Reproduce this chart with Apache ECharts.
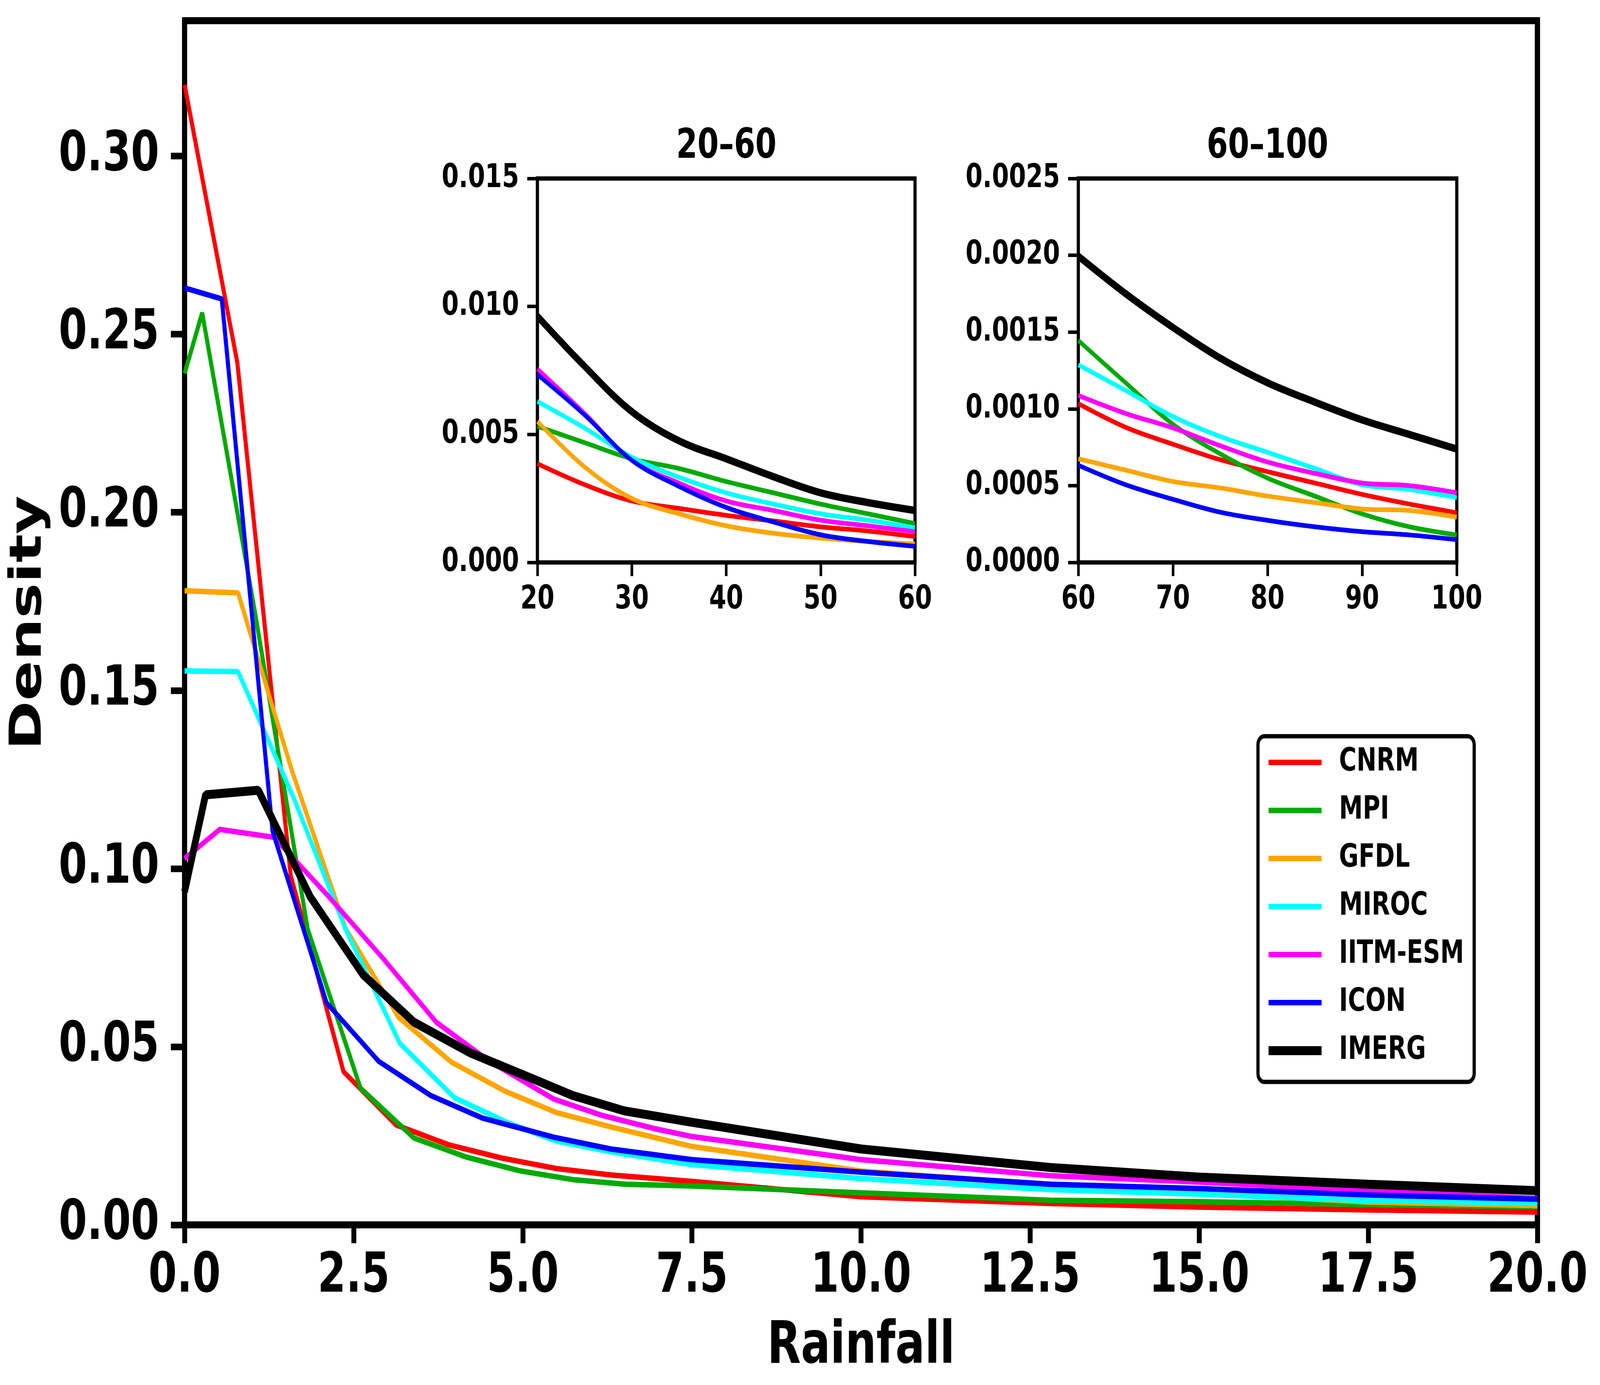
<!DOCTYPE html>
<html>
<head>
<meta charset="utf-8">
<script src="https://cdn.jsdelivr.net/npm/echarts@6/dist/echarts.min.js"></script>
<style>
html, body { margin: 0; padding: 0; background: #fff; overflow: hidden; }
#chart { width: 5496px; height: 3546px; transform-origin: 0 0; }
</style>
</head>
<body>
<div id="chart"></div>
<script>
// models and colours, in drawing order
const models = ['CNRM', 'MPI', 'GFDL', 'MIROC', 'IITM-ESM', 'ICON', 'IMERG'];
const colors = ['#ff0000', '#00aa00', '#ffa500', '#00ffff', '#ff00ff', '#0000ff', '#000000'];

// main panel: rainfall (x) and density (y) per model
const cnrmX = [0, 0.78, 1.57, 2.35, 3.13, 3.9, 4.7, 5.5, 6.3, 7.5, 10, 12.8, 15, 17.5, 20];
const cnrmY = [0.320, 0.242, 0.098, 0.043, 0.028, 0.0225, 0.0187, 0.0158, 0.0140, 0.0122, 0.0079, 0.0060, 0.0050, 0.0042, 0.0036];
const mpiX = [0, 0.26, 1.04, 1.82, 2.6, 3.39, 4.17, 4.95, 5.74, 6.52, 7.5, 10, 12.8, 15, 17.5, 20];
const mpiY = [0.239, 0.256, 0.172, 0.083, 0.0384, 0.0244, 0.0190, 0.0152, 0.0127, 0.0114, 0.0109, 0.0090, 0.0069, 0.0065, 0.0057, 0.0051];
const gfdlX = [0, 0.79, 1.59, 2.38, 3.16, 3.95, 4.74, 5.5, 6.3, 7.5, 10, 12.8, 15, 17.5, 20];
const gfdlY = [0.178, 0.1774, 0.1273, 0.0832, 0.0583, 0.0456, 0.0375, 0.0315, 0.0275, 0.0220, 0.0151, 0.0112, 0.0090, 0.0064, 0.0054];
const mirocX = [0, 0.79, 1.61, 2.38, 3.18, 3.99, 4.8, 5.5, 6.3, 7.5, 10, 12.8, 15, 17.5, 20];
const mirocY = [0.1555, 0.1553, 0.120, 0.083, 0.051, 0.0357, 0.0285, 0.0235, 0.0205, 0.0169, 0.0130, 0.0099, 0.0086, 0.0068, 0.0061];
const iitmX = [0, 0.52, 1.32, 2.10, 2.92, 3.72, 4.5, 5.46, 6.16, 6.95, 7.5, 10, 12.8, 15, 17.5, 20];
const iitmY = [0.1028, 0.111, 0.1088, 0.0928, 0.0751, 0.0569, 0.0460, 0.0353, 0.0308, 0.0270, 0.0248, 0.0183, 0.0138, 0.0120, 0.0096, 0.0074];
const iconX = [0, 0.55, 1.30, 2.10, 2.87, 3.64, 4.4, 5.46, 6.3, 7.5, 10, 12.8, 15, 17.5, 20];
const iconY = [0.263, 0.2599, 0.1106, 0.0623, 0.0459, 0.0363, 0.0300, 0.0246, 0.0213, 0.0183, 0.0148, 0.0114, 0.0102, 0.0084, 0.0072];
const imergX = [0, 0.31, 1.09, 1.86, 2.64, 3.39, 4.22, 5.06, 5.74, 6.5, 7.5, 10, 12.8, 15, 17.5, 20];
const imergY = [0.0935, 0.1207, 0.122, 0.092, 0.0702, 0.0569, 0.0483, 0.0417, 0.0363, 0.0320, 0.0288, 0.0213, 0.0161, 0.0134, 0.0114, 0.0096];

// inset 20-60
const inset1X = [20, 25, 30, 35, 40, 45, 50, 55, 60];
const inset1Cnrm = [0.00386, 0.00304, 0.0024, 0.00211, 0.00184, 0.00162, 0.00139, 0.00123, 0.00101];
const inset1Mpi = [0.00532, 0.00468, 0.00405, 0.00367, 0.00316, 0.00272, 0.00228, 0.0019, 0.00152];
const inset1Gfdl = [0.00551, 0.00373, 0.0025, 0.0019, 0.00143, 0.00114, 0.00095, 0.00082, 0.00072];
const inset1Miroc = [0.00629, 0.00525, 0.00411, 0.00333, 0.00272, 0.00228, 0.0019, 0.00165, 0.00135];
const inset1Iitm = [0.00756, 0.00582, 0.00399, 0.0031, 0.0024, 0.00203, 0.00165, 0.00143, 0.0012];
const inset1Icon = [0.00734, 0.00576, 0.00399, 0.00297, 0.00215, 0.00158, 0.00108, 0.00082, 0.00063];
const inset1Imerg = [0.00962, 0.00766, 0.00589, 0.00475, 0.00405, 0.00335, 0.00272, 0.00234, 0.00203];

// inset 60-100
const inset2X = [60, 65, 70, 75, 80, 85, 90, 95, 100];
const inset2Cnrm = [0.001034, 0.00088, 0.00077, 0.000669, 0.000591, 0.000517, 0.000443, 0.00038, 0.000323];
const inset2Mpi = [0.001445, 0.00117, 0.0009, 0.000707, 0.000549, 0.000432, 0.000316, 0.000232, 0.000179];
const inset2Gfdl = [0.000675, 0.000601, 0.000527, 0.000485, 0.000432, 0.00039, 0.000348, 0.000338, 0.000295];
const inset2Miroc = [0.001287, 0.00112, 0.00095, 0.00082, 0.000717, 0.000612, 0.000506, 0.000475, 0.000422];
const inset2Iitm = [0.001087, 0.00097, 0.000876, 0.00076, 0.000654, 0.00058, 0.000517, 0.0005, 0.000454];
const inset2Icon = [0.000633, 0.000506, 0.000411, 0.000327, 0.000274, 0.000232, 0.0002, 0.000179, 0.000148];
const inset2Imerg = [0.001994, 0.00175, 0.00153, 0.00133, 0.00117, 0.001044, 0.000928, 0.000833, 0.000738];

// tick labels
const mainXTicks = [0, 2.5, 5, 7.5, 10, 12.5, 15, 17.5, 20];
const mainYTicks = [0, 0.05, 0.10, 0.15, 0.20, 0.25, 0.30];
const inset1XTicks = [20, 30, 40, 50, 60];
const inset1YTicks = [0, 0.005, 0.010, 0.015];
const inset2XTicks = [60, 70, 80, 90, 100];
const inset2YTicks = [0, 0.0005, 0.0010, 0.0015, 0.0020, 0.0025];

const mainXs = [cnrmX, mpiX, gfdlX, mirocX, iitmX, iconX, imergX];
const mainYs = [cnrmY, mpiY, gfdlY, mirocY, iitmY, iconY, imergY];
const inset1Ys = [inset1Cnrm, inset1Mpi, inset1Gfdl, inset1Miroc, inset1Iitm, inset1Icon, inset1Imerg];
const inset2Ys = [inset2Cnrm, inset2Mpi, inset2Gfdl, inset2Miroc, inset2Iitm, inset2Icon, inset2Imerg];

const FONT = 'DejaVu Sans';

// the layout is laid out on a 5496x3546 board, then fitted to the viewport
const el = document.getElementById('chart');
el.style.transform = 'scale(' + (window.innerWidth / 5496) + ',' + (window.innerHeight / 3546) + ')';

function pairs(xs, ys) {
    return xs.map((x, i) => [x, ys[i]]);
}

function makeSeries(idx, xs, ysList, thin, thick, smooth) {
    return models.map((name, i) => ({
        type: 'line',
        name: name,
        xAxisIndex: idx,
        yAxisIndex: idx,
        data: pairs(Array.isArray(xs[0]) ? xs[i] : xs, ysList[i]),
        symbol: 'none',
        smooth: smooth,
        lineStyle: { color: colors[i], width: i === 6 ? thick : thin },
        itemStyle: { color: colors[i] },
        emphasis: { disabled: true },
        animation: false
    }));
}

function valueAxis(gridIndex, min, max, ticks, fmt, opts) {
    return {
        type: 'value',
        gridIndex: gridIndex,
        min: min,
        max: max,
        splitLine: { show: false },
        axisLine: { show: false },
        axisTick: {
            show: true,
            length: opts.tickLen,
            customValues: ticks,
            lineStyle: { color: '#000', width: opts.tickWidth }
        },
        axisLabel: {
            customValues: ticks,
            formatter: fmt,
            margin: opts.margin,
            color: '#000',
            fontFamily: FONT,
            fontWeight: 'bold',
            fontSize: opts.fontSize,
            lineHeight: Math.round(opts.fontSize * 1.2)
        }
    };
}

const chart = echarts.init(el);

const mainOpts = { tickLen: 47, tickWidth: 17, fontSize: 140 };
const insetOpts = { tickLen: 35, tickWidth: 9, fontSize: 84 };
const titleStyle = { fontFamily: FONT, fontWeight: 'bold', fontSize: 105, lineHeight: 126, color: '#000' };

chart.setOption({
    animation: false,
    backgroundColor: '#fff',
    title: [
        { text: '20\u201360', left: 2495, top: 314, textAlign: 'center', padding: 0, textStyle: titleStyle },
        { text: '60\u2013100', left: 4354, top: 314, textAlign: 'center', padding: 0, textStyle: titleStyle }
    ],
    legend: {
        data: models,
        orient: 'vertical',
        left: 4321,
        top: 1885,
        padding: [22, 35, 35, 25],
        itemWidth: 182,
        itemHeight: 24,
        itemGap: 33,
        selectedMode: false,
        borderColor: '#000',
        borderWidth: 11,
        borderRadius: 22,
        backgroundColor: '#fff',
        itemStyle: { opacity: 0 },
        lineStyle: { width: 'inherit', opacity: 1 },
        textStyle: {
            fontFamily: FONT, fontWeight: 'bold', fontSize: 82, lineHeight: 90, color: '#000',
            padding: [0, 0, 0, 55]
        }
    },
    grid: [
        { left: 634, right: 215, top: 53, bottom: 410, show: true, borderColor: '#000', borderWidth: 18, backgroundColor: 'transparent', containLabel: false, outerBoundsMode: 'none' },
        { left: 1846, right: 2353, top: 457, bottom: 2106, show: true, borderColor: '#000', borderWidth: 11, backgroundColor: '#fff', containLabel: false, outerBoundsMode: 'none' },
        { left: 3704, right: 492, top: 457, bottom: 2106, show: true, borderColor: '#000', borderWidth: 11, backgroundColor: '#fff', containLabel: false, outerBoundsMode: 'none' }
    ],
    xAxis: [
        Object.assign(valueAxis(0, 0, 20, mainXTicks, v => v.toFixed(1), Object.assign({ margin: 51 }, mainOpts)), {
            name: 'Rainfall', nameLocation: 'middle', nameGap: 214,
            nameTextStyle: { fontFamily: FONT, fontWeight: 'bold', fontSize: 150, lineHeight: 180, color: '#000' }
        }),
        valueAxis(1, 20, 60, inset1XTicks, v => String(v), Object.assign({ margin: 46 }, insetOpts)),
        valueAxis(2, 60, 100, inset2XTicks, v => String(v), Object.assign({ margin: 46 }, insetOpts))
    ],
    yAxis: [
        Object.assign(valueAxis(0, 0, 0.338, mainYTicks, v => v.toFixed(2), Object.assign({ margin: 87 }, mainOpts)), {
            name: 'Density', nameLocation: 'middle', nameGap: 438,
            nameTextStyle: { fontFamily: FONT, fontWeight: 'bold', fontSize: 152, lineHeight: 180, color: '#000' }
        }),
        valueAxis(1, 0, 0.015, inset1YTicks, v => v.toFixed(3), Object.assign({ margin: 63 }, insetOpts)),
        valueAxis(2, 0, 0.0025, inset2YTicks, v => v.toFixed(4), Object.assign({ margin: 63 }, insetOpts))
    ],
    series: [].concat(
        makeSeries(0, mainXs, mainYs, 14, 23, false),
        makeSeries(1, inset1X, inset1Ys, 12, 19, 0.35),
        makeSeries(2, inset2X, inset2Ys, 12, 19, 0.35)
    )
});
</script>
</body>
</html>
